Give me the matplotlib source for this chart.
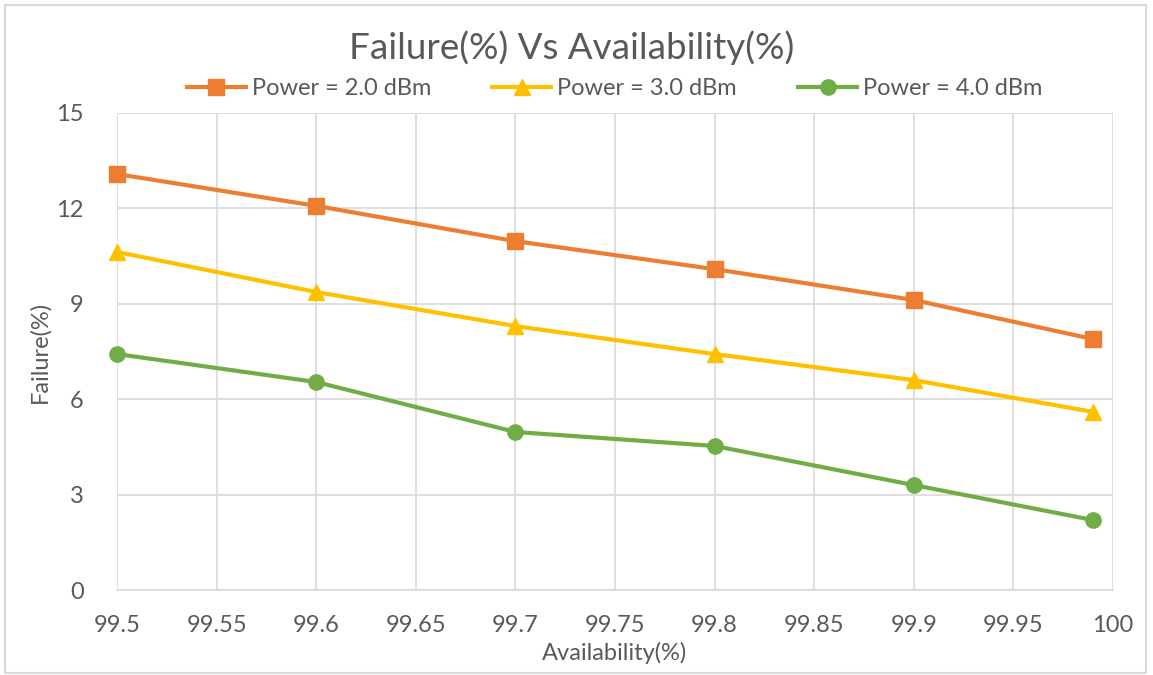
import matplotlib
matplotlib.use("Agg")
import matplotlib.pyplot as plt
from matplotlib.patches import Rectangle

plt.rcParams["font.family"] = ["Lato", "DejaVu Sans"]

availability = [99.5, 99.6, 99.7, 99.8, 99.9, 99.99]
fail_2dbm = [13.08, 12.08, 10.97, 10.09, 9.12, 7.89]
fail_3dbm = [10.63, 9.37, 8.30, 7.42, 6.60, 5.60]
fail_4dbm = [7.42, 6.54, 4.97, 4.53, 3.30, 2.20]

labels = ["Power = 2.0 dBm", "Power = 3.0 dBm", "Power = 4.0 dBm"]
colors = ["#ED7D31", "#FFC000", "#70AD47"]
markers = ["s", "^", "o"]
text_col = "#595959"

fig = plt.figure(figsize=(11.53, 6.75), dpi=100)
ax = fig.add_axes([0.1015, 0.1259, 0.8638, 0.7067])

for ys, lab, c, m in zip([fail_2dbm, fail_3dbm, fail_4dbm], labels, colors, markers):
    ax.plot(availability, ys, color=c, lw=3, marker=m, markersize=11,
            label=lab, clip_on=False, zorder=3)

ax.set_xlim(99.5, 100)
ax.set_ylim(0, 15)
ax.set_xticks([99.5 + 0.05 * i for i in range(11)])
ax.set_xticklabels(["99.5", "99.55", "99.6", "99.65", "99.7", "99.75",
                    "99.8", "99.85", "99.9", "99.95", "100"])
ax.set_yticks([0, 3, 6, 9, 12, 15])
ax.grid(True, color="#D9D9D9", lw=1.2)
ax.set_axisbelow(True)
for s in ["top", "right", "left"]:
    ax.spines[s].set_visible(False)
ax.spines["bottom"].set_color("#D9D9D9")
ax.spines["bottom"].set_linewidth(1.2)
ax.tick_params(length=0, labelsize=17, labelcolor=text_col)
ax.tick_params(axis="x", pad=18)
ax.tick_params(axis="y", pad=24)

ax.set_xlabel("Availability(%)", fontsize=17, color=text_col, labelpad=4)
ax.set_ylabel("Failure(%)", fontsize=17, color=text_col, labelpad=4)

fig.text(0.496, 0.93, "Failure(%) Vs Availability(%)", fontsize=26.5,
         color=text_col, ha="center", va="center")

fig.legend(loc="center", bbox_to_anchor=(0.533, 0.869), ncol=3, frameon=False,
           fontsize=17, labelcolor=text_col, columnspacing=2.6,
           handlelength=2.5, handletextpad=0.25)

fig.patches.append(Rectangle((0.004, 0.003), 0.99, 0.99, transform=fig.transFigure,
                             fill=False, edgecolor="#D9D9D9", lw=1.5))

fig.savefig("out.png", dpi=100)
